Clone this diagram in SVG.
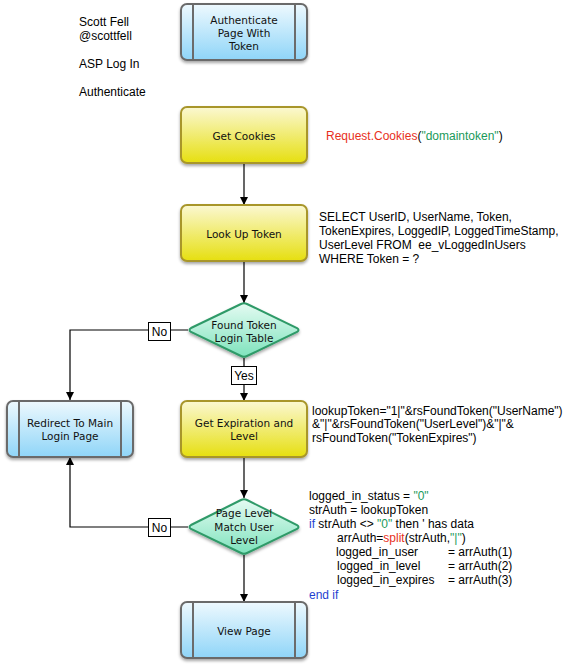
<svg xmlns="http://www.w3.org/2000/svg" width="563" height="666" viewBox="0 0 563 666">
<defs>
<linearGradient id="gBlue" x1="0" y1="0" x2="0" y2="1">
<stop offset="0" stop-color="#eef9fe"/>
<stop offset="1" stop-color="#8fd5f8"/>
</linearGradient>
<linearGradient id="gYellow" x1="0" y1="0" x2="0" y2="1">
<stop offset="0" stop-color="#fbf8d2"/>
<stop offset="1" stop-color="#e6df10"/>
</linearGradient>
<linearGradient id="gGreen" x1="0" y1="0" x2="0" y2="1">
<stop offset="0" stop-color="#e4fbf2"/>
<stop offset="1" stop-color="#7fe3bd"/>
</linearGradient>
<filter id="sh" x="-10%" y="-10%" width="130%" height="140%">
<feDropShadow dx="0" dy="2" stdDeviation="1.5" flood-color="#000" flood-opacity="0.35"/>
</filter>
<marker id="arr" viewBox="0 0 10 10" refX="10" refY="5" markerWidth="8" markerHeight="8" markerUnits="userSpaceOnUse" orient="auto">
<path d="M0,0 L10,5 L0,10 z" fill="#000"/>
</marker>
</defs>
<style>
.blue{fill:url(#gBlue);stroke:#6b6b6b;stroke-width:2;filter:url(#sh)}
.yellow{fill:url(#gYellow);stroke:#a8962c;stroke-width:2;filter:url(#sh)}
.green{fill:url(#gGreen);stroke:#2f9a68;stroke-width:2;filter:url(#sh)}
.bar{stroke:#6b6b6b;stroke-width:2}
.lbl{font-family:"DejaVu Sans",sans-serif;font-size:10.5px;fill:#111;text-anchor:middle}
.t{font-family:"Liberation Sans",Arial,sans-serif;font-size:12px;fill:#000;white-space:pre}
.conn{stroke:#000;stroke-width:1.2;fill:none;marker-end:url(#arr)}
.tagbox{fill:#fff;stroke:#000;stroke-width:1}
.r{fill:#e8301c}
.g{fill:#1a9a5a}
.b{fill:#1f3fd0}
</style>

<g id="notes">
<text class="t" x="79" y="26">Scott Fell</text>
<text class="t" x="79" y="40">@scottfell</text>
<text class="t" x="79" y="68">ASP Log In</text>
<text class="t" x="79" y="96">Authenticate</text>
<text class="t" x="326" y="140"><tspan class="r">Request.Cookies</tspan>(<tspan class="g">"domaintoken"</tspan>)</text>
<text class="t" x="319" y="221">SELECT UserID, UserName, Token,</text>
<text class="t" x="319" y="235">TokenExpires, LoggedIP, LoggedTimeStamp,</text>
<text class="t" x="319" y="249">UserLevel FROM  ee_vLoggedInUsers</text>
<text class="t" x="319" y="263">WHERE Token = ?</text>
<text class="t" x="312" y="415">lookupToken="1|"&amp;rsFoundToken("UserName")</text>
<text class="t" x="312" y="428">&amp;"|"&amp;rsFoundToken("UserLevel")&amp;"|"&amp;</text>
<text class="t" x="312" y="442">rsFoundToken("TokenExpires")</text>
<text class="t" x="309" y="500">logged_in_status = <tspan class="g">"0"</tspan></text>
<text class="t" x="309" y="514">strAuth = lookupToken</text>
<text class="t" x="309" y="528"><tspan class="b">if</tspan> strAuth &lt;&gt; <tspan class="g">"0"</tspan> then ' has data</text>
<text class="t" x="337" y="542">arrAuth=<tspan class="r">split</tspan>(strAuth,<tspan class="g">"|"</tspan>)</text>
<text class="t" x="336" y="556">logged_in_user</text>
<text class="t" x="448" y="556">= arrAuth(1)</text>
<text class="t" x="337" y="570">logged_in_level</text>
<text class="t" x="448" y="570">= arrAuth(2)</text>
<text class="t" x="337" y="584">logged_in_expires</text>
<text class="t" x="448" y="584">= arrAuth(3)</text>
<text class="t b" x="309" y="599">end if</text>
</g>

<g id="connectors">
<line class="conn" x1="244" y1="163" x2="244" y2="205"/>
<line class="conn" x1="244" y1="261" x2="244" y2="303"/>
<polyline class="conn" points="188,330 70,330 70,400"/>
<line class="conn" x1="244" y1="358" x2="244" y2="401"/>
<line class="conn" x1="244" y1="457" x2="244" y2="498"/>
<polyline class="conn" points="188,527 70,527 70,457"/>
<line class="conn" x1="244" y1="555" x2="244" y2="602"/>
<g id="tag-no1"><rect class="tagbox" x="148.5" y="322.5" width="22" height="18"/><text class="t" x="159.5" y="336" text-anchor="middle">No</text></g>
<g id="tag-yes"><rect class="tagbox" x="231.5" y="366.5" width="25" height="18"/><text class="t" x="244" y="380" text-anchor="middle">Yes</text></g>
<g id="tag-no2"><rect class="tagbox" x="148.5" y="518.5" width="22" height="18"/><text class="t" x="159.5" y="532" text-anchor="middle">No</text></g>
</g>

<g id="n-auth">
<rect class="blue" x="181" y="4" width="126" height="56" rx="6"/>
<line class="bar" x1="193" y1="5" x2="193" y2="59"/>
<line class="bar" x1="295" y1="5" x2="295" y2="59"/>
<text class="lbl" x="244" y="24">Authenticate</text>
<text class="lbl" x="244" y="37">Page With</text>
<text class="lbl" x="244" y="50">Token</text>
</g>

<g id="n-cookies">
<rect class="yellow" x="181" y="107" width="126" height="56" rx="6"/>
<text class="lbl" x="244" y="140">Get Cookies</text>
</g>

<g id="n-lookup">
<rect class="yellow" x="181" y="205" width="126" height="56" rx="6"/>
<text class="lbl" x="244" y="238">Look Up Token</text>
</g>

<g id="n-found">
<path class="green" d="M191,328 L241,304 Q244,302.5 247,304 L297,328 Q300,330 297,332 L247,356 Q244,357.5 241,356 L191,332 Q188,330 191,328 Z"/>
<text class="lbl" x="244" y="329">Found Token</text>
<text class="lbl" x="244" y="342">Login Table</text>
</g>

<g id="n-redirect">
<rect class="blue" x="7" y="401" width="126" height="56" rx="6"/>
<line class="bar" x1="19" y1="402" x2="19" y2="456"/>
<line class="bar" x1="121" y1="402" x2="121" y2="456"/>
<text class="lbl" x="70" y="427">Redirect To Main</text>
<text class="lbl" x="70" y="440">Login Page</text>
</g>

<g id="n-expiration">
<rect class="yellow" x="181" y="401" width="126" height="56" rx="6"/>
<text class="lbl" x="244" y="427">Get Expiration and</text>
<text class="lbl" x="244" y="440">Level</text>
</g>

<g id="n-level">
<path class="green" d="M191,525 L241,500 Q244,498.5 247,500 L297,525 Q300,527 297,529 L247,553 Q244,554.5 241,553 L191,529 Q188,527 191,525 Z"/>
<text class="lbl" x="244" y="517">Page Level</text>
<text class="lbl" x="244" y="531">Match User</text>
<text class="lbl" x="244" y="544">Level</text>
</g>

<g id="n-view">
<rect class="blue" x="181" y="602" width="126" height="56" rx="6"/>
<line class="bar" x1="193" y1="603" x2="193" y2="657"/>
<line class="bar" x1="295" y1="603" x2="295" y2="657"/>
<text class="lbl" x="244" y="635">View Page</text>
</g>
</svg>
